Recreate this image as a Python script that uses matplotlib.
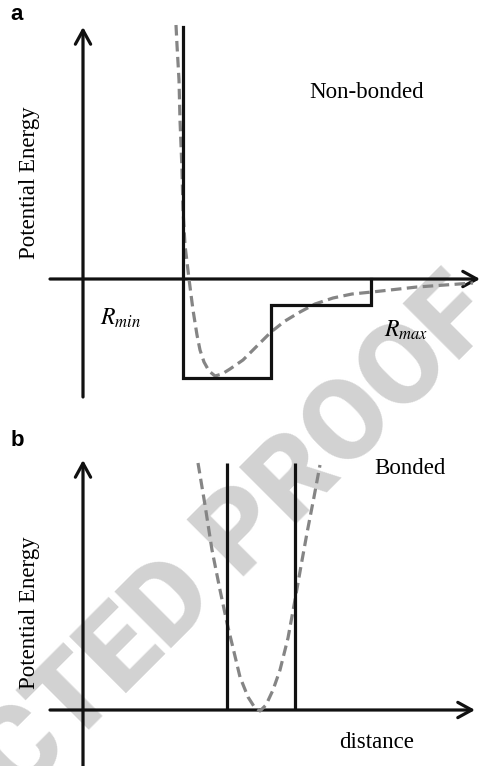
import matplotlib
matplotlib.use("Agg")
import matplotlib.pyplot as plt

# ---------------- data (distance / energy in arbitrary units) ----------------
# Panel a: non-bonded potential
lj_dist = [0.93, 0.94, 0.96, 0.97, 0.99, 1.00, 1.02, 1.06, 1.10, 1.14, 1.17, 1.21,
           1.26, 1.32, 1.39, 1.47, 1.60, 1.77, 1.88, 2.02, 2.17, 2.32, 2.50, 2.69,
           2.89, 3.34, 3.90]
lj_energy = [2.54, 2.34, 1.99, 1.59, 1.09, 0.69, 0.34, 0.00, -0.31, -0.56, -0.71, -0.83,
             -0.92, -0.97, -0.95, -0.90, -0.81, -0.64, -0.53, -0.42, -0.33, -0.25, -0.19, -0.15,
             -0.13, -0.08, -0.04]
step_dist = [1.00, 1.00, 1.88, 1.88, 2.88, 2.88]
step_energy = [2.52, -0.99, -0.99, -0.26, -0.26, 0.00]

# Panel b: bonded potential
harm_dist = [1.15, 1.22, 1.29, 1.37, 1.44, 1.51, 1.57, 1.65, 1.72, 1.77,
             1.83, 1.90, 1.97, 2.05, 2.12, 2.18, 2.24, 2.31, 2.37]
harm_energy = [2.47, 2.05, 1.60, 1.20, 0.87, 0.58, 0.33, 0.13, 0.02, -0.01,
               0.05, 0.20, 0.40, 0.72, 1.10, 1.44, 1.77, 2.13, 2.45]
wall_dist = [1.44, 2.12]
wall_top = 2.47

labels_a = ["a", "Potential Energy", "Non-bonded", r"$R_{min}$", r"$R_{max}$"]
labels_b = ["b", "Potential Energy", "Bonded", "distance"]
watermark = "CORRECTED PROOF"

# ---------------- figure ----------------
plt.rcParams["mathtext.fontset"] = "stix"
W, H = 484, 766
fig = plt.figure(figsize=(W / 100, H / 100), dpi=100)
fig.patch.set_facecolor("white")

fig.text(108 / W, 1 - 668 / H, watermark, rotation=45, ha="center", va="center",
         rotation_mode="anchor", fontsize=82, fontweight="black",
         family=["Roboto", "Liberation Sans"], color="#d2d2d2", zorder=-5)

ax_a = fig.add_axes([0, 1 - 400 / H, 1, 400 / H])
ax_b = fig.add_axes([0, 0, 1, 366 / H])
for ax in (ax_a, ax_b):
    ax.set_facecolor("none")
    ax.axis("off")
ax_a.set_xlim(-0.83, 4.01)
ax_a.set_ylim(-1.21, 2.79)
ax_b.set_xlim(-0.83, 4.01)
ax_b.set_ylim(-0.56, 3.10)

LW = 2.3
BLACK = "#111111"
GRAY = "#858585"
serif = "Liberation Serif"
FS = 16.5


def arrow(ax, start, tip):
    ax.annotate("", xy=tip, xytext=start,
                arrowprops=dict(arrowstyle="->,head_length=1.0,head_width=0.55",
                                lw=LW, color=BLACK, shrinkA=0, shrinkB=0),
                zorder=3)


# panel a
ax_a.plot(lj_dist, lj_energy, color=GRAY, lw=LW, dashes=(3.3, 1.7), zorder=4)
ax_a.plot(step_dist, step_energy, color=BLACK, lw=LW, solid_joinstyle="miter", zorder=5)
arrow(ax_a, (-0.33, 0), (3.97, 0))
arrow(ax_a, (0, -1.18), (0, 2.52))
ax_a.text(-0.66, 2.64, labels_a[0], ha="center", va="center", fontsize=16,
          fontweight="bold", family="Liberation Sans")
ax_a.text(-0.53, 0.96, labels_a[1], ha="center", va="center", rotation=90,
          fontsize=FS, family=serif)
ax_a.text(2.84, 1.87, labels_a[2], ha="center", va="center", fontsize=FS, family=serif)
ax_a.text(0.38, -0.39, labels_a[3], ha="center", va="center", fontsize=17)
ax_a.text(3.23, -0.51, labels_a[4], ha="center", va="center", fontsize=17)

# panel b
ax_b.plot(harm_dist, harm_energy, color=GRAY, lw=LW, dashes=(3.3, 1.7), zorder=4)
ax_b.vlines(wall_dist, 0, wall_top, color=BLACK, lw=LW, zorder=5)
arrow(ax_b, (-0.33, 0), (3.92, 0))
arrow(ax_b, (0, -0.56), (0, 2.50))
ax_b.text(-0.66, 2.70, labels_b[0], ha="center", va="center", fontsize=16,
          fontweight="bold", family="Liberation Sans")
ax_b.text(-0.53, 0.97, labels_b[1], ha="center", va="center", rotation=90,
          fontsize=FS, family=serif)
ax_b.text(3.27, 2.42, labels_b[2], ha="center", va="center", fontsize=FS, family=serif)
ax_b.text(2.94, -0.33, labels_b[3], ha="center", va="center", fontsize=FS, family=serif)

fig.savefig("out.png", dpi=100, facecolor="white")
